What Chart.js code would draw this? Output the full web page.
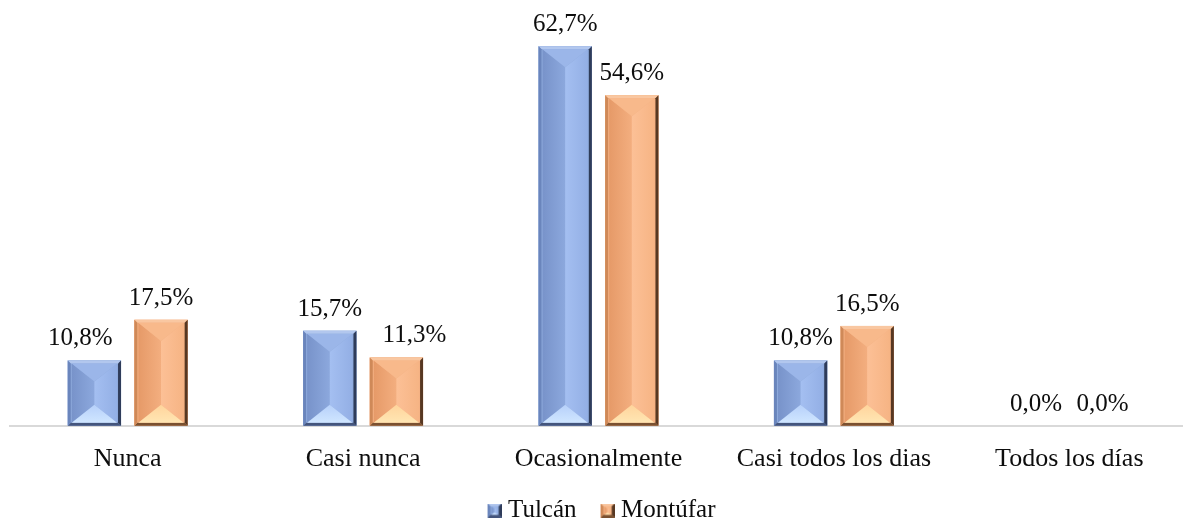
<!DOCTYPE html>
<html lang="es">
<head>
<meta charset="UTF-8">
<title>Frecuencia por cantón</title>
<script src="https://cdn.jsdelivr.net/npm/chart.js"></script>
<style>
  html, body { margin: 0; padding: 0; background: #fff; overflow: hidden; }
</style>
</head>
<body>
<canvas id="chart" width="1197" height="533"></canvas>
<script>
// datos
const categories = ['Nunca', 'Casi nunca', 'Ocasionalmente', 'Casi todos los dias', 'Todos los días'];
const tulcan = [10.8, 15.7, 62.7, 10.8, 0.0];
const montufar = [17.5, 11.3, 54.6, 16.5, 0.0];
const seriesNames = ['Tulcán', 'Montúfar'];

const FONT = "'Liberation Serif', 'Times New Roman', serif";

// colores del bisel para cada serie
const palettes = [
    { base: '#8eaadc', edgeL: '#6a85bc', edgeR: '#2f3c5a', edgeT: '#b2c7ee', edgeB: '#44557c',
      faceL: ['#7893ca', '#8ca8dd'], faceR: ['#a4bff1', '#93afe5'], faceT: '#9bb6e9',
      faceB: ['#b6d0fa', '#d0e6ff'] },
    { base: '#f4b183', edgeL: '#cf8958', edgeR: '#573822', edgeT: '#f9c7a1', edgeB: '#7a5131',
      faceL: ['#e69a68', '#f3ae7f'], faceR: ['#fcc096', '#f6b484'], faceT: '#f8b98b',
      faceB: ['#ffd49c', '#ffe6b3'] }
];

// etiquetas desplazadas como en el original
const labelShift = [[-14, 0, 0, 0, 0], [0, 18, 0, 0, 0]];

function poly(ctx, pts, fill) {
    ctx.beginPath();
    ctx.moveTo(pts[0][0], pts[0][1]);
    for (let i = 1; i < pts.length; i++) ctx.lineTo(pts[i][0], pts[i][1]);
    ctx.closePath();
    ctx.fillStyle = fill;
    ctx.fill();
}

function drawBevel(ctx, l, t, r, b, p) {
    if (b - t < 1) return;
    ctx.save();
    ctx.fillStyle = p.base;
    ctx.fillRect(l, t, r - l, b - t);
    // bordes
    const e = Math.min(3, (r - l) / 5);
    poly(ctx, [[l, t], [r, t], [r - e, t + e], [l + e, t + e]], p.edgeT);
    poly(ctx, [[l, b], [r, b], [r - e, b - e], [l + e, b - e]], p.edgeB);
    poly(ctx, [[l, t], [l + e, t + e], [l + e, b - e], [l, b]], p.edgeL);
    poly(ctx, [[r, t], [r - e, t + e], [r - e, b - e], [r, b]], p.edgeR);
    // caras interiores
    const il = l + e + 1, ir = r - e - 1, it = t + e, ib = b - e;
    if (ib - it > 1) {
        const cx = (il + ir) / 2;
        const d = Math.min((ir - il) * 0.4, (ib - it) / 2);
        let g = ctx.createLinearGradient(il, 0, cx, 0);
        g.addColorStop(0, p.faceL[0]); g.addColorStop(1, p.faceL[1]);
        poly(ctx, [[il, it], [cx, it + d], [cx, ib - d], [il, ib]], g);
        g = ctx.createLinearGradient(cx, 0, ir, 0);
        g.addColorStop(0, p.faceR[0]); g.addColorStop(1, p.faceR[1]);
        poly(ctx, [[ir, it], [cx, it + d], [cx, ib - d], [ir, ib]], g);
        poly(ctx, [[il, it], [ir, it], [cx, it + d]], p.faceT);
        g = ctx.createLinearGradient(0, ib - d, 0, ib);
        g.addColorStop(0, p.faceB[0]); g.addColorStop(1, p.faceB[1]);
        poly(ctx, [[il, ib], [ir, ib], [cx, ib - d]], g);
    }
    ctx.restore();
}

// iconos de la leyenda (cuadro desplazado a la derecha para acercar el texto)
function legendIcon(p) {
    const c = document.createElement('canvas');
    c.width = 26; c.height = 14;
    drawBevel(c.getContext('2d'), 12, 0, 26, 14, p);
    return c;
}
const icons = palettes.map(legendIcon);

const bevelPlugin = {
    id: 'bevel',
    afterDatasetsDraw(chart) {
        const ctx = chart.ctx;
        chart.data.datasets.forEach((ds, i) => {
            const meta = chart.getDatasetMeta(i);
            meta.data.forEach((bar, j) => {
                const { x, y, base, width } = bar.getProps(['x', 'y', 'base', 'width'], true);
                drawBevel(ctx, x - width / 2, y, x + width / 2, base, palettes[i]);
                const txt = ds.data[j].toFixed(1).replace('.', ',') + '%';
                ctx.save();
                ctx.font = '25px ' + FONT;
                ctx.fillStyle = '#0d0d0d';
                ctx.textAlign = 'center';
                ctx.textBaseline = 'alphabetic';
                ctx.fillText(txt, x + labelShift[i][j], y - 15);
                ctx.restore();
            });
        });
    }
};

new Chart(document.getElementById('chart'), {
    type: 'bar',
    data: {
        labels: categories,
        datasets: [
            { label: seriesNames[0], data: tulcan, backgroundColor: palettes[0].base },
            { label: seriesNames[1], data: montufar, backgroundColor: palettes[1].base }
        ]
    },
    options: {
        responsive: false,
        animation: false,
        layout: { padding: { left: 10, right: 10, top: 2, bottom: 0 } },
        datasets: { bar: { categoryPercentage: 0.566, barPercentage: 0.8 } },
        scales: {
            x: {
                grid: { display: false, drawTicks: false },
                border: { display: true, color: '#d9d9d9', width: 2 },
                ticks: { color: '#0d0d0d', padding: 18, font: { family: FONT, size: 26 } },
                afterFit(scale) { scale.height -= 13; }
            },
            y: { display: false, min: 0, max: 70 }
        },
        plugins: {
            tooltip: { enabled: false },
            legend: {
                position: 'bottom',
                labels: {
                    usePointStyle: true,
                    pointStyleWidth: 14,
                    padding: 18,
                    color: '#0d0d0d',
                    font: { family: FONT, size: 25 },
                    generateLabels(chart) {
                        const items = Chart.defaults.plugins.legend.labels.generateLabels(chart);
                        items.forEach((it, k) => { it.pointStyle = icons[k]; });
                        return items;
                    }
                }
            }
        }
    },
    plugins: [bevelPlugin]
});
</script>
</body>
</html>
